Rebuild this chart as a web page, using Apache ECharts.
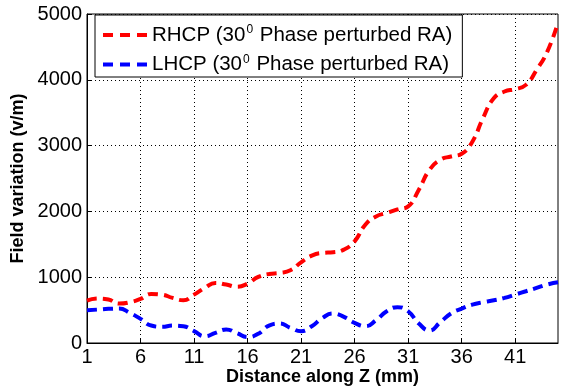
<!DOCTYPE html>
<html>
<head>
<meta charset="utf-8">
<script src="https://cdn.jsdelivr.net/npm/echarts@6/dist/echarts.min.js"></script>
<style>
html,body{margin:0;padding:0;background:#fff;}
#chart{width:563px;height:388px;}
</style>
</head>
<body>
<div id="chart"></div>
<script>
var distance = [1,2,3,4,5,6,7,8,9,10,11,12,13,14,15,16,17,18,19,20,21,22,23,24,25,26,27,28,29,30,31,32,33,34,35,36,37,38,39,40,41,42,43,44,45];
var rhcp = [645,675,660,600,620,670,745,735,685,650,735,837,913,888,855,903,1004,1050,1065,1105,1226,1328,1369,1378,1419,1545,1798,1924,1976,2030,2076,2330,2633,2784,2835,2876,3060,3420,3721,3822,3858,3923,4150,4428,4870];
var lhcp = [498,508,519,523,458,367,265,246,265,255,180,103,155,205,150,90,140,265,296,230,180,255,382,448,397,306,255,346,483,545,483,296,190,316,448,523,584,620,650,685,736,786,837,888,922];
var yTicks = [0,1000,2000,3000,4000,5000];
var seriesNames = ['RHCP (30 Phase perturbed RA)', 'LHCP (30 Phase perturbed RA)'];

var FONT = '"Liberation Sans", Arial, sans-serif';
var DASH_ICON = 'path://M0,0h10v4h-10zM17,0h10v4h-10zM34,0h10v4h-10z';
var chart = echarts.init(document.getElementById('chart'));
var showIdx = function (i) { return i % 5 === 0 && i <= 40; };
chart.setOption({
  animation: false,
  backgroundColor: '#fff',
  grid: { left: 87, right: 5, top: 14, bottom: 45, show: true, borderColor: '#000', borderWidth: 1,
          containLabel: false, outerBoundsMode: 'none' },
  legend: {
    data: [
      { name: seriesNames[0], icon: DASH_ICON },
      { name: seriesNames[1], icon: DASH_ICON }
    ],
    orient: 'vertical',
    left: 95, top: 15,
    padding: [9, 10, 2, 8],
    itemGap: 8,
    itemWidth: 44, itemHeight: 4,
    borderColor: '#000', borderWidth: 1,
    backgroundColor: '#fff',
    formatter: function (name) {
      var p = name.split('30');
      return '{a|' + p[0] + '30}{s|0}{a|' + p[1] + '}';
    },
    textStyle: {
      rich: {
        a: { fontFamily: FONT, fontSize: 20.5, lineHeight: 22, color: '#000' },
        s: { fontFamily: FONT, fontSize: 12, lineHeight: 22, color: '#000', verticalAlign: 'top', padding: [0, 1, 0, 1] }
      }
    }
  },
  xAxis: {
    type: 'category',
    data: distance,
    boundaryGap: false,
    name: 'Distance along Z (mm)',
    nameLocation: 'middle',
    nameGap: 25,
    nameMoveOverlap: false,
    nameTextStyle: { fontFamily: FONT, fontSize: 18, fontWeight: 'bold', color: '#000' },
    axisLine: { show: true, lineStyle: { color: '#000', width: 1 } },
    axisTick: { show: true, inside: true, length: 4, interval: showIdx, lineStyle: { color: '#000' } },
    axisLabel: { interval: showIdx, fontFamily: FONT, fontSize: 20, color: '#000', margin: 4 },
    splitLine: { show: true, interval: showIdx, lineStyle: { color: '#000', type: [1, 3], width: 1 } }
  },
  yAxis: {
    type: 'value',
    min: 0, max: 5000, interval: 1000,
    name: 'Field variation (v/m)',
    nameLocation: 'middle',
    nameGap: 60,
    nameMoveOverlap: false,
    nameTextStyle: { fontFamily: FONT, fontSize: 18, fontWeight: 'bold', color: '#000' },
    axisLine: { show: true, lineStyle: { color: '#000', width: 1 } },
    axisTick: { show: true, inside: true, length: 4, lineStyle: { color: '#000' } },
    axisLabel: { fontFamily: FONT, fontSize: 20, color: '#000', margin: 5,
      formatter: function (v) { return yTicks.indexOf(v) >= 0 ? String(v) : ''; } },
    splitLine: { show: true, lineStyle: { color: '#000', type: [1, 3], width: 1 } }
  },
  series: [
    { name: seriesNames[0], type: 'line', data: rhcp, smooth: 0.5, symbol: 'none',
      lineStyle: { color: '#ff0000', width: 4, type: [10, 6] }, itemStyle: { color: '#ff0000' } },
    { name: seriesNames[1], type: 'line', data: lhcp, smooth: 0.5, symbol: 'none',
      lineStyle: { color: '#0000ff', width: 4, type: [10, 6] }, itemStyle: { color: '#0000ff' } }
  ]
});
</script>
</body>
</html>
